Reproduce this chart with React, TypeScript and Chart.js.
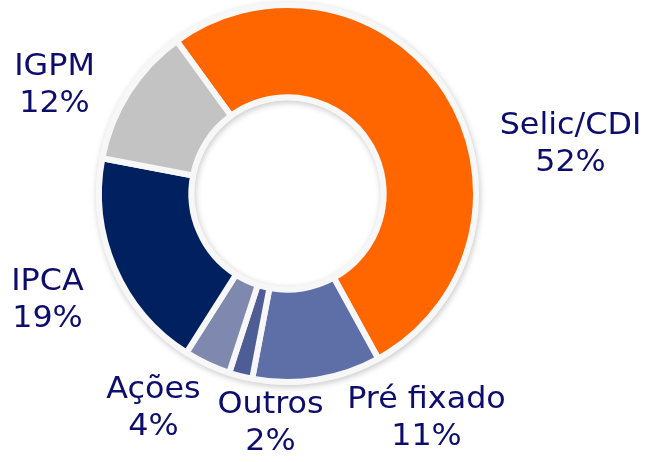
import React, { useEffect, useRef } from "react";
import { Chart, registerables } from "chart.js";

Chart.register(...registerables);

const categories = ["Selic/CDI", "Pré fixado", "Outros", "Ações", "IPCA", "IGPM"];
const values = [52, 11, 2, 4, 19, 12];
const percentLabels = ["52%", "11%", "2%", "4%", "19%", "12%"];

const sliceColors = ["#FF6600", "#5E6FA8", "#4F5D96", "#7F88AE", "#002060", "#C3C3C3"];
// label anchor offsets (px) from the doughnut centre: [x centre, first baseline]
const labelOffsets: [number, number][] = [
  [283, -60],
  [139, 214],
  [-17, 219],
  [-134, 204],
  [-240, 96],
  [-233, -119],
];

const shadowPlugin = {
  id: "ringShadow",
  beforeDatasetsDraw(chart: any) {
    const arc = chart.getDatasetMeta(0).data[0];
    if (!arc) return;
    const ctx = chart.ctx;
    const { x, y, outerRadius, innerRadius } = arc.getProps(["x", "y", "outerRadius", "innerRadius"], true);
    ctx.save();
    ctx.shadowColor = "rgba(0,0,0,0.22)";
    ctx.shadowBlur = 6;
    ctx.shadowOffsetX = 1;
    ctx.shadowOffsetY = 2;
    ctx.fillStyle = "#F7F7F7";
    ctx.beginPath();
    ctx.arc(x, y, outerRadius + 3, 0, Math.PI * 2);
    ctx.arc(x, y, Math.max(innerRadius - 3, 0), 0, Math.PI * 2, true);
    ctx.fill();
    ctx.restore();
  },
};

const labelPlugin = {
  id: "outerLabels",
  afterDraw(chart: any) {
    const arc = chart.getDatasetMeta(0).data[0];
    if (!arc) return;
    const cx = arc.x;
    const cy = arc.y;
    const ctx = chart.ctx;
    ctx.save();
    ctx.fillStyle = "#0D0D6E";
    ctx.font = "30px 'DejaVu Sans', Verdana, sans-serif";
    ctx.textAlign = "center";
    ctx.textBaseline = "alphabetic";
    categories.forEach((name, i) => {
      const [dx, dy] = labelOffsets[i];
      const x = cx + dx;
      const y = cy + dy;
      ctx.save();
      ctx.translate(x, 0);
      ctx.scale(1.06, 1);
      ctx.fillText(name, 0, y);
      ctx.fillText(percentLabels[i], 0, y + 37);
      ctx.restore();
    });
    ctx.restore();
  },
};

export default function App() {
  const ref = useRef<HTMLCanvasElement | null>(null);
  useEffect(() => {
    if (!ref.current) return;
    const chart = new Chart(ref.current, {
      type: "doughnut",
      data: {
        labels: categories,
        datasets: [
          {
            data: values,
            backgroundColor: sliceColors,
            borderColor: "#F7F7F7",
            borderWidth: 6,
          },
        ],
      },
      options: {
        responsive: false,
        animation: false,
        rotation: -36,
        cutout: "51%",
        layout: { padding: { left: 96, top: 2, right: 177, bottom: 77 } },
        plugins: {
          legend: { display: false },
          tooltip: { enabled: false },
        },
      },
      plugins: [shadowPlugin, labelPlugin],
    });
    return () => chart.destroy();
  }, []);
  return (
    <div style={{ position: "fixed", left: 0, top: 0, width: 656, height: 462, background: "#fff" }}>
      <canvas ref={ref} width={656} height={462} />
    </div>
  );
}
